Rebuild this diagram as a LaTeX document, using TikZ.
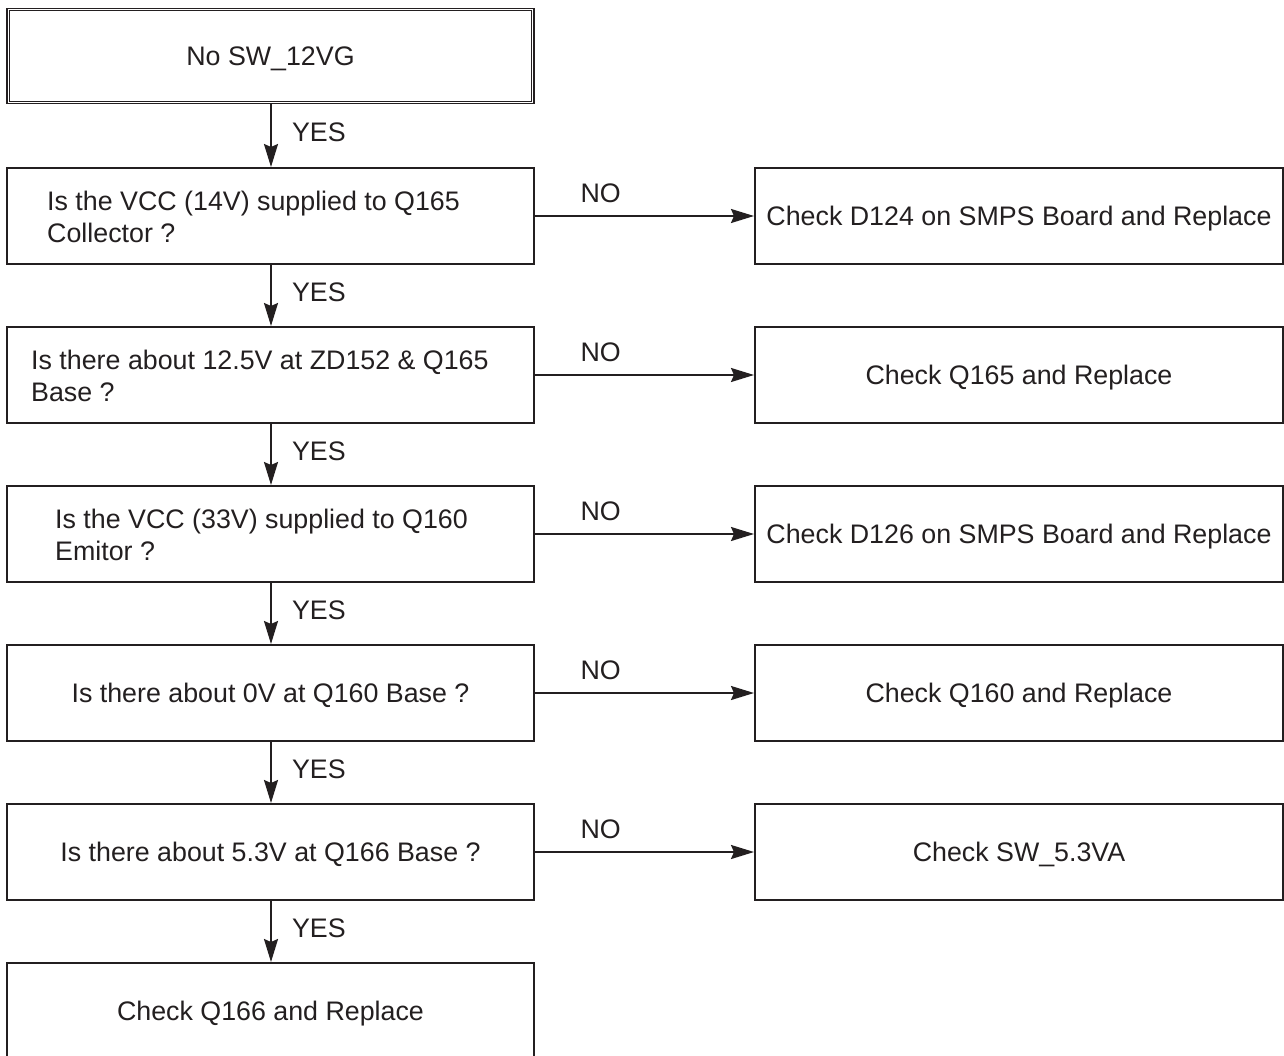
\documentclass[tikz,border=0pt]{standalone}
\usepackage{fontspec}
\setmainfont{Liberation Sans}
\usetikzlibrary{arrows.meta}
\definecolor{ink}{HTML}{231F20}
\begin{document}
\begin{tikzpicture}[x=1pt,y=-1pt,
  every node/.style={text=ink, font=\fontsize{26.8}{32}\selectfont},
  box/.style={draw=ink, line width=2pt, rectangle, inner sep=0pt,
    minimum width=527pt, minimum height=96pt, text height=20pt, text depth=0.8pt},
  rbox/.style={box, minimum width=528pt},
  topbox/.style={draw=ink, line width=1.2pt, double=white, double distance=1.3pt,
    rectangle, inner sep=0pt, minimum width=524.5pt, minimum height=93pt,
    text height=20pt, text depth=0.8pt},
  txt/.style={anchor=west, align=left, inner sep=0pt, yshift=-0.5pt},
  arr/.style={draw=ink, line width=2pt, -{Stealth[length=23pt,width=14pt,inset=3pt]}},
  yes/.style={midway, anchor=west, inner sep=0pt, xshift=20pt, yshift=3pt},
  no/.style={pos=0.3, anchor=center, inner sep=0pt, yshift=23pt}]
\clip (0,0) rectangle (1284,1055);
\fill[white] (0,0) rectangle (1284,1055);

\node[topbox] (b0) at (270.5,56) {No SW\_12VG};

\node[box] (b1) at (270.5,216) {};
\node[txt] (t1) at (47,216) {Is the VCC (14V) supplied to Q165\\Collector ?};
\node[box] (b2) at (270.5,375) {};
\node[txt] (t2) at (31,375) {Is there about 12.5V at ZD152 \& Q165\\Base ?};
\node[box] (b3) at (270.5,534) {};
\node[txt] (t3) at (55,534) {Is the VCC (33V) supplied to Q160\\Emitor ?};
\node[box] (b4) at (270.5,693) {Is there about 0V at Q160 Base ?};
\node[box] (b5) at (270.5,852) {Is there about 5.3V at Q166 Base ?};
\node[box] (b6) at (270.5,1011) {Check Q166 and Replace};

\node[rbox] (r1) at (1019,216) {Check D124 on SMPS Board and Replace};
\node[rbox] (r2) at (1019,375) {Check Q165 and Replace};
\node[rbox] (r3) at (1019,534) {Check D126 on SMPS Board and Replace};
\node[rbox] (r4) at (1019,693) {Check Q160 and Replace};
\node[rbox] (r5) at (1019,852) {Check SW\_5.3VA};

\foreach \a/\b in {b0/b1,b1/b2,b2/b3,b3/b4,b4/b5,b5/b6}
  \draw[arr] ([xshift=0.5pt]\a.south) -- node[yes] (y\b) {YES} ([xshift=0.5pt]\b.north);

\foreach \i in {1,...,5}
  \draw[arr] (b\i.east) -- node[no] (n\i) {NO} (r\i.west);
\end{tikzpicture}
\end{document}
